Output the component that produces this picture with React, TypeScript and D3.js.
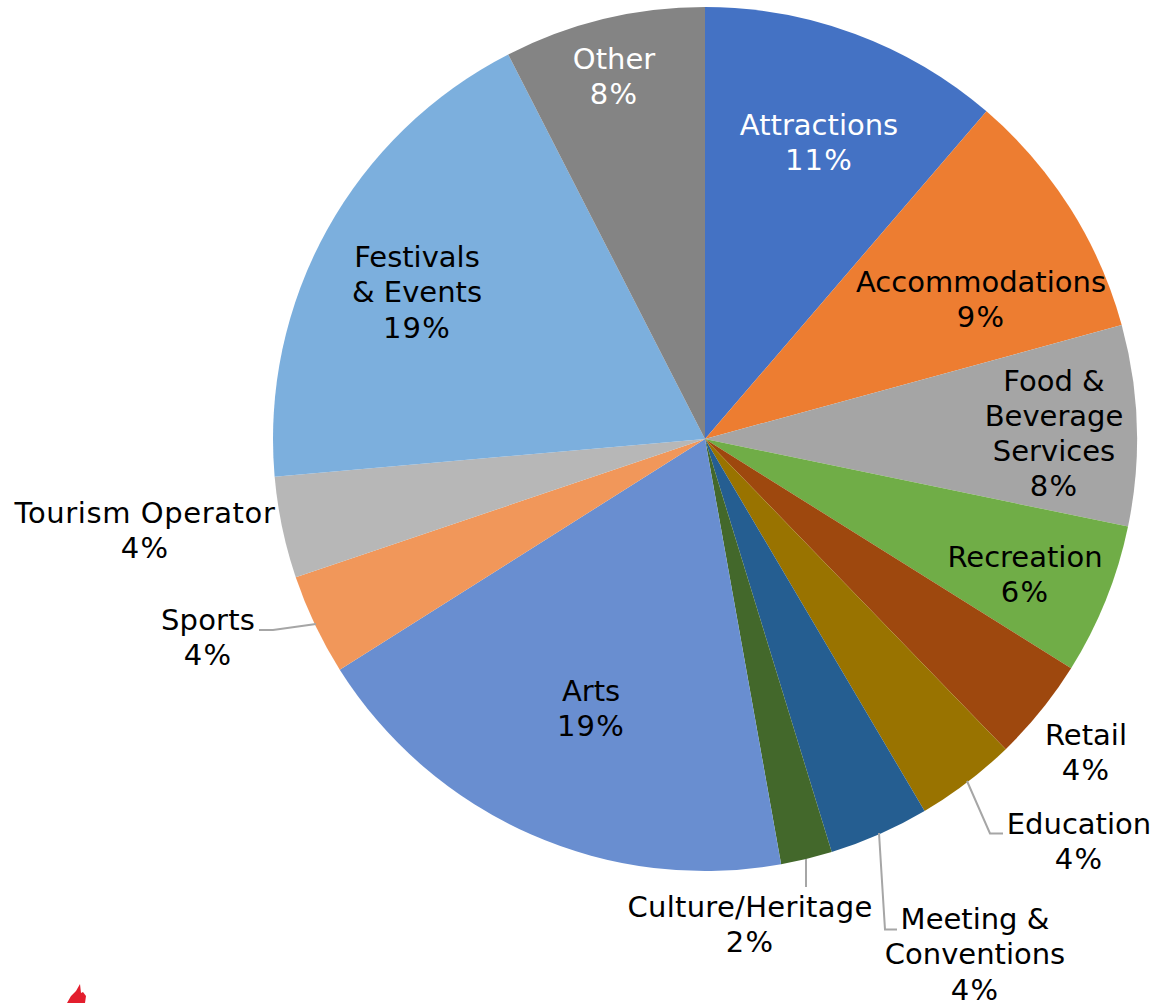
import React from "react";
import * as d3 from "d3";

const categories = ["Attractions","Accommodations","Food & Beverage Services","Recreation","Retail","Education","Meeting & Conventions","Culture/Heritage","Arts","Sports","Tourism Operator","Festivals & Events","Other"];
const values = [11.3,9.46,7.5,5.66,3.84,3.77,3.75,1.92,18.86,3.78,3.8,18.87,7.53];
const colors = ["#4472C4","#ED7D31","#A5A5A5","#70AD47","#9E480E","#997300","#255E91","#43682B","#698ED0","#F1975A","#B7B7B7","#7CAFDD","#848484"];

const labelLines = [["Attractions","11%"],["Accommodations","9%"],["Food &","Beverage","Services","8%"],["Recreation","6%"],["Retail","4%"],["Education","4%"],["Meeting &","Conventions","4%"],["Culture/Heritage","2%"],["Arts","19%"],["Sports","4%"],["Tourism Operator","4%"],["Festivals","& Events","19%"],["Other","8%"]];
const labelX = [819,981,1054,1025,1086,1079,975,750,591,208,145,417,614];
const labelY = [134.5,292,390.5,567,745,834,929,917,701,630,523,267,69];
const labelFill = ["#fff","#000","#000","#000","#000","#000","#000","#000","#000","#000","#000","#000","#fff"];
const labelSpacing = [0,0,0,0,0,0,0,0.3,0,0.15,0.6,0,0];
const leaders = ["M967,781L990,833.5L1003,833.5","M879,833L885,929.5L897,929.5","M806,859L806,887","M259,630L273,630L316,624"];

export default function App() {
  const cx = 705, cy = 439, r = 432;
  const pie = d3.pie<number>().sort(null)(values);
  const arc = d3.arc<d3.PieArcDatum<number>>().innerRadius(0).outerRadius(r);
  return (
    <svg width={1153} height={1003} style={{position:"absolute",left:0,top:0,background:"#fff"}} fontFamily="'DejaVu Sans'">
      <g transform={`translate(${cx},${cy})`}>
        {pie.map((d,i)=><path key={categories[i]} d={arc(d)!} fill={colors[i]} />)}
      </g>
      {leaders.map((d,i)=><path key={i} d={d} fill="none" stroke="#A6A6A6" strokeWidth={2}/>)}
      {labelLines.map((ls,i)=>(
        <text key={i} x={labelX[i]} y={labelY[i]} textAnchor="middle" fontSize={29} fill={labelFill[i]}>
          {ls.map((t,j)=><tspan key={j} x={labelX[i]} dy={j?35.3:0} letterSpacing={t.endsWith("%")?1.2:labelSpacing[i]}>{t}</tspan>)}
        </text>
      ))}
      <path d="M67,1003L71,996L76,991L80,984L81,993L83,992L86,996L85,1003Z" fill="#E31E2D"/>
    </svg>
  );
}
